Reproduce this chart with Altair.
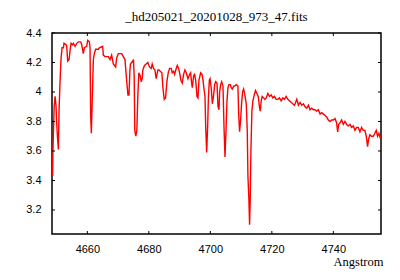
import altair as alt
import pandas as pd

wavelength = [
    4648.7, 4648.8, 4649.2, 4649.5, 4649.8, 4650.0, 4650.26, 4650.58, 4650.8, 4651.13,
    4651.45, 4651.77, 4652.2, 4652.4, 4653.07, 4653.29, 4653.6, 4654.05, 4654.37, 4654.7,
    4655.13, 4655.45, 4656.0, 4656.54, 4657.08, 4657.84, 4658.16, 4658.7, 4659.03, 4659.78,
    4660.11, 4660.65, 4660.87, 4661.08, 4661.3, 4661.62, 4661.95, 4662.27, 4662.7, 4663.57,
    4663.9, 4664.98, 4665.19, 4665.74, 4666.82, 4667.36, 4667.9, 4668.44, 4669.2, 4669.52,
    4670.06, 4671.15, 4671.69, 4672.23, 4672.77, 4673.2, 4673.53, 4673.85, 4674.02, 4674.78,
    4675.0, 4675.22, 4675.43, 4675.76, 4676.09, 4676.41, 4676.74, 4677.17, 4677.5, 4677.83,
    4678.04, 4678.59, 4679.13, 4679.67, 4680.22, 4680.76, 4681.09, 4681.52, 4681.96, 4682.39,
    4682.93, 4683.26, 4683.7, 4684.24, 4684.57, 4685.0, 4685.43, 4685.87, 4686.3, 4686.74,
    4687.28, 4687.61, 4688.04, 4688.37, 4688.91, 4689.24, 4689.67, 4690.0, 4690.43, 4690.87,
    4691.3, 4691.74, 4692.17, 4692.72, 4693.26, 4693.59, 4693.91, 4694.13, 4694.57, 4694.89,
    4695.22, 4695.65, 4695.98, 4696.3, 4696.85, 4697.28, 4697.61, 4697.93, 4698.26, 4698.48,
    4698.8, 4699.13, 4699.35, 4699.67, 4699.9, 4700.32, 4700.65, 4701.08, 4701.4, 4701.73,
    4702.16, 4702.49, 4702.81, 4703.03, 4703.35, 4703.68, 4704.11, 4704.43, 4704.76, 4705.08,
    4705.41, 4705.73, 4706.05, 4706.49, 4706.81, 4707.14, 4707.57, 4707.89, 4708.43, 4708.97,
    4709.19, 4709.51, 4709.84, 4710.16, 4710.49, 4710.81, 4711.14, 4711.68, 4712.0, 4712.22,
    4712.54, 4712.76, 4712.97, 4713.19, 4713.51, 4713.84, 4714.27, 4714.7, 4715.14, 4715.57,
    4715.89, 4716.22, 4716.54, 4716.86, 4717.3, 4717.73, 4718.16, 4718.7, 4719.24, 4719.78,
    4720.32, 4720.86, 4721.41, 4721.95, 4722.49, 4723.03, 4723.57, 4724.11, 4724.65, 4725.19,
    4725.73, 4726.27, 4726.81, 4727.35, 4727.57, 4728.11, 4728.65, 4729.19, 4729.73, 4730.27,
    4730.81, 4731.35, 4731.89, 4732.43, 4732.97, 4733.51, 4734.05, 4734.59, 4735.14, 4735.68,
    4736.22, 4736.76, 4737.3, 4737.84, 4738.38, 4738.92, 4739.46, 4740.0, 4740.54, 4741.08,
    4741.41, 4741.73, 4742.16, 4742.7, 4743.24, 4743.78, 4744.32, 4744.86, 4745.41, 4745.95,
    4746.49, 4747.03, 4747.57, 4748.11, 4748.65, 4749.19, 4749.73, 4750.27, 4750.7, 4751.14,
    4751.46, 4751.89, 4752.43, 4752.97, 4753.51, 4753.95, 4754.38, 4754.81, 4755.24, 4755.46,
]

flux = [
    3.43, 3.60, 3.90, 3.97, 3.91, 3.80, 3.70, 3.61, 3.88, 4.08,
    4.23, 4.30, 4.30, 4.33, 4.32, 4.31, 4.21, 4.22, 4.28, 4.33,
    4.32, 4.33, 4.31, 4.33, 4.34, 4.34, 4.32, 4.26, 4.30, 4.31,
    4.35, 4.34, 4.30, 3.83, 3.72, 3.97, 4.22, 4.26, 4.29, 4.29,
    4.30, 4.31, 4.25, 4.24, 4.24, 4.22, 4.25, 4.19, 4.17, 4.23,
    4.26, 4.26, 4.24, 4.22, 4.08, 3.98, 3.98, 4.15, 4.19, 4.21,
    4.22, 4.11, 3.74, 3.70, 3.74, 3.97, 4.13, 4.11, 4.07, 4.09,
    4.15, 4.18, 4.19, 4.20, 4.17, 4.16, 4.19, 4.16, 4.15, 4.09,
    4.15, 4.15, 4.14, 4.13, 4.03, 3.95, 3.96, 4.07, 4.13, 4.16,
    4.16, 4.13, 4.14, 4.12, 4.16, 4.18, 4.16, 4.13, 4.08, 4.06,
    4.12, 4.15, 4.13, 4.09, 4.12, 4.13, 4.06, 4.03, 4.11, 4.12,
    4.08, 3.97, 3.96, 4.08, 4.13, 4.12, 4.08, 4.02, 3.97, 3.77,
    3.59, 3.77, 3.95, 4.08, 4.09, 4.02, 3.92, 3.98, 4.05, 4.07,
    4.06, 3.90, 3.88, 4.00, 4.05, 4.07, 4.04, 3.77, 3.56, 3.73,
    3.94, 4.03, 4.05, 4.05, 4.03, 4.02, 4.04, 4.04, 4.05, 4.04,
    3.86, 3.73, 3.81, 3.92, 4.00, 4.02, 3.99, 3.92, 3.74, 3.43,
    3.27, 3.10, 3.27, 3.60, 3.87, 3.94, 3.98, 4.01, 3.99, 3.97,
    3.91, 3.87, 3.94, 3.97, 3.96, 3.95, 3.96, 3.99, 3.97, 3.98,
    3.96, 3.97, 3.95, 3.95, 3.96, 3.94, 3.96, 3.95, 3.97, 3.95,
    3.94, 3.93, 3.92, 3.91, 3.92, 3.95, 3.91, 3.93, 3.91, 3.92,
    3.90, 3.89, 3.91, 3.88, 3.89, 3.88, 3.88, 3.87, 3.88, 3.85,
    3.86, 3.85, 3.84, 3.83, 3.81, 3.80, 3.81, 3.81, 3.82, 3.79,
    3.73, 3.78, 3.79, 3.81, 3.78, 3.80, 3.78, 3.77, 3.78, 3.76,
    3.77, 3.74, 3.76, 3.76, 3.73, 3.76, 3.74, 3.74, 3.70, 3.63,
    3.68, 3.71, 3.70, 3.70, 3.72, 3.74, 3.70, 3.72, 3.69, 3.70,
]

x_ticks = [4660, 4680, 4700, 4720, 4740]
y_ticks = [3.2, 3.4, 3.6, 3.8, 4.0, 4.2, 4.4]

title_text = "_hd205021_20201028_973_47.fits"
x_title = "Angstrom"

W, H = 329, 201
TICK = 3

spec = pd.DataFrame({"wavelength": wavelength, "flux": flux})
xt = pd.DataFrame({"wavelength": x_ticks})
yt = pd.DataFrame({"flux": y_ticks})

xscale = alt.Scale(domain=[4648.5, 4755.5], nice=False, zero=False)
yscale = alt.Scale(domain=[3.037, 4.4], nice=False, zero=False)

xaxis = alt.Axis(
    values=x_ticks, format="d", ticks=False, domain=False, grid=False,
    labelPadding=9, labelFont="Liberation Sans", labelFontSize=11, labelColor="black",
    title=x_title, titleFont="Liberation Serif", titleFontSize=12.5, titleFontWeight="normal",
    titleColor="black", titleAnchor="end", titleAlign="right", titleBaseline="alphabetic",
    titleX=W + 2, titleY=31,
)
yaxis = alt.Axis(
    values=y_ticks, format="~g", ticks=False, domain=False, grid=False,
    labelPadding=11, labelFont="Liberation Sans", labelFontSize=11, labelColor="black",
    title=None,
)

line = alt.Chart(spec).mark_line(color="#ff0000", strokeWidth=1.4, interpolate="linear", clip=True).encode(
    x=alt.X("wavelength:Q", scale=xscale, axis=xaxis),
    y=alt.Y("flux:Q", scale=yscale, axis=yaxis),
)

xb = alt.Chart(xt).mark_rule(color="black", strokeWidth=1).encode(
    x=alt.X("wavelength:Q", scale=xscale, axis=xaxis),
    y=alt.value(H), y2=alt.value(H - TICK),
)
xtop = alt.Chart(xt).mark_rule(color="black", strokeWidth=1).encode(
    x=alt.X("wavelength:Q", scale=xscale, axis=xaxis),
    y=alt.value(0), y2=alt.value(TICK),
)
yl = alt.Chart(yt).mark_rule(color="black", strokeWidth=1).encode(
    y=alt.Y("flux:Q", scale=yscale, axis=yaxis),
    x=alt.value(0), x2=alt.value(TICK),
)
yr = alt.Chart(yt).mark_rule(color="black", strokeWidth=1).encode(
    y=alt.Y("flux:Q", scale=yscale, axis=yaxis),
    x=alt.value(W - TICK), x2=alt.value(W),
)

chart = alt.layer(line, xb, xtop, yl, yr).properties(
    width=W, height=H,
    title=alt.TitleParams(
        text=title_text, font="Liberation Serif", fontSize=13, fontWeight="normal",
        color="black", anchor="middle", frame="group", offset=3,
    ),
    autosize=alt.AutoSizeParams(type="none"),
    padding={"left": 44, "top": 25, "right": 11, "bottom": 36},
    background="white",
).configure_view(stroke="black", strokeWidth=1.5)

chart.save("out.html", embed_options={"renderer": "svg", "actions": False})
